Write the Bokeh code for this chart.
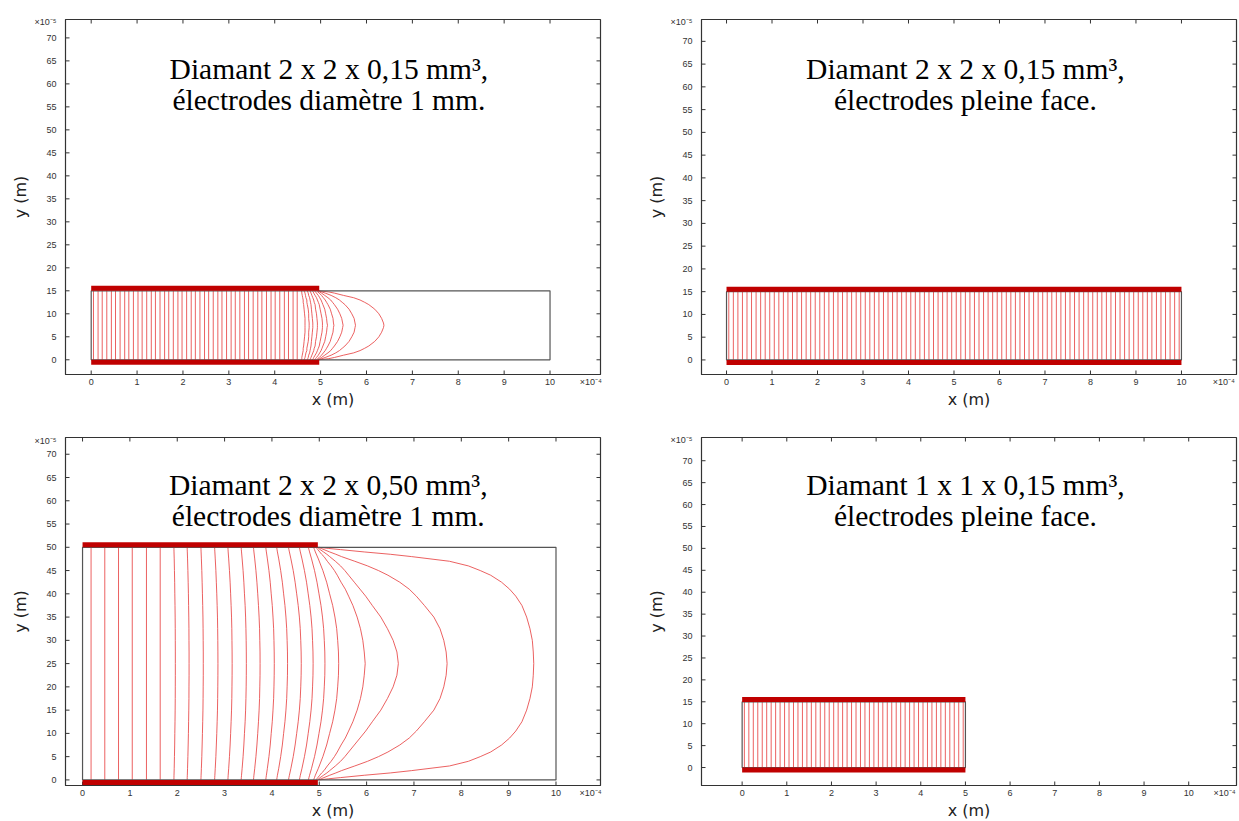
import numpy as np
from bokeh.plotting import figure
from bokeh.layouts import column, row
from bokeh.models import Range1d, FixedTicker
from bokeh.embed import file_html
from bokeh.resources import INLINE
from bokeh.core.properties import value

# ---------------- data (x in 1e-4 m, y in 1e-5 m) ----------------
x_ticks = [0, 1, 2, 3, 4, 5, 6, 7, 8, 9, 10]
y_ticks = [0, 5, 10, 15, 20, 25, 30, 35, 40, 45, 50, 55, 60, 65, 70]
x_exponent = "×10⁻⁴"
y_exponent = "×10⁻⁵"

# Panel 1 : 2 x 2 x 0.15 mm3, electrodes 1 mm
p1_title = ["Diamant 2 x 2 x 0,15 mm³,", "électrodes diamètre 1 mm."]
p1_diamond = [10.0, 15.0]
p1_electrode = [0.0, 4.97]
p1_straight_x = [0.05, 0.15, 0.24, 0.34, 0.44, 0.53, 0.63, 0.73, 0.82, 0.92,
                 1.02, 1.11, 1.21, 1.31, 1.40, 1.50, 1.60, 1.69, 1.79, 1.89,
                 1.98, 2.08, 2.18, 2.27, 2.37, 2.47, 2.56, 2.66, 2.76, 2.85,
                 2.95, 3.05, 3.14, 3.24, 3.34, 3.43, 3.53, 3.63, 3.72, 3.82,
                 3.92, 4.01, 4.11, 4.21, 4.30, 4.40, 4.49]
p1_levels = [0, 0.25, 0.5, 1, 1.5, 2, 2.5, 3, 4, 5, 6, 7, 7.5]
p1_curves_x = [
    [4.58, 4.59, 4.59, 4.60, 4.61, 4.62, 4.62, 4.63, 4.64, 4.65, 4.66, 4.66, 4.66],
    [4.64, 4.65, 4.66, 4.67, 4.68, 4.70, 4.70, 4.71, 4.73, 4.74, 4.74, 4.75, 4.75],
    [4.71, 4.72, 4.73, 4.74, 4.76, 4.77, 4.78, 4.79, 4.80, 4.81, 4.82, 4.83, 4.83],
    [4.77, 4.78, 4.79, 4.81, 4.83, 4.85, 4.86, 4.88, 4.89, 4.91, 4.92, 4.93, 4.93],
    [4.82, 4.84, 4.85, 4.88, 4.91, 4.93, 4.95, 4.97, 4.99, 5.01, 5.03, 5.04, 5.04],
    [4.87, 4.89, 4.91, 4.95, 4.98, 5.01, 5.03, 5.05, 5.09, 5.11, 5.13, 5.14, 5.15],
    [4.91, 4.94, 4.97, 5.02, 5.06, 5.10, 5.13, 5.16, 5.21, 5.24, 5.27, 5.28, 5.29],
    [4.94, 4.98, 5.02, 5.09, 5.16, 5.22, 5.26, 5.30, 5.37, 5.42, 5.46, 5.48, 5.49],
    [4.95, 5.03, 5.10, 5.23, 5.33, 5.41, 5.47, 5.53, 5.62, 5.68, 5.73, 5.75, 5.76],
    [4.96, 5.18, 5.30, 5.50, 5.72, 5.86, 5.96, 6.05, 6.18, 6.27, 6.33, 6.37, 6.38],
]

# Panel 2 : 2 x 2 x 0.15 mm3, full-face electrodes
p2_title = ["Diamant 2 x 2 x 0,15 mm³,", "électrodes pleine face."]
p2_diamond = [10.0, 15.0]
p2_electrode = [0.0, 10.0]
p2_straight_x = [0.05, 0.15, 0.25, 0.35, 0.45, 0.55, 0.65, 0.75, 0.85, 0.95,
                 1.05, 1.15, 1.25, 1.35, 1.45, 1.55, 1.65, 1.75, 1.85, 1.95,
                 2.05, 2.15, 2.25, 2.35, 2.45, 2.55, 2.65, 2.75, 2.85, 2.95,
                 3.05, 3.15, 3.25, 3.35, 3.45, 3.55, 3.65, 3.75, 3.85, 3.95,
                 4.05, 4.15, 4.25, 4.35, 4.45, 4.55, 4.65, 4.75, 4.85, 4.95,
                 5.05, 5.15, 5.25, 5.35, 5.45, 5.55, 5.65, 5.75, 5.85, 5.95,
                 6.05, 6.15, 6.25, 6.35, 6.45, 6.55, 6.65, 6.75, 6.85, 6.95,
                 7.05, 7.15, 7.25, 7.35, 7.45, 7.55, 7.65, 7.75, 7.85, 7.95,
                 8.05, 8.15, 8.25, 8.35, 8.45, 8.55, 8.65, 8.75, 8.85, 8.95,
                 9.05, 9.15, 9.25, 9.35, 9.45, 9.55, 9.65, 9.75, 9.85, 9.95]

# Panel 3 : 2 x 2 x 0.50 mm3, electrodes 1 mm
p3_title = ["Diamant 2 x 2 x 0,50 mm³,", "électrodes diamètre 1 mm."]
p3_diamond = [10.0, 50.0]
p3_electrode = [0.0, 4.97]
p3_straight_x = [0.18, 0.47, 0.76, 1.05, 1.35, 1.64]
p3_levels = [0, 0.5, 1, 2.5, 5, 7.5, 10, 12.5, 15, 17.5, 20, 22.5, 25]
p3_curves_x = [
    [1.930, 1.931, 1.932, 1.936, 1.941, 1.946, 1.949, 1.953, 1.956, 1.958, 1.959, 1.960, 1.960],
    [2.210, 2.211, 2.213, 2.218, 2.225, 2.231, 2.236, 2.240, 2.244, 2.247, 2.248, 2.250, 2.250],
    [2.500, 2.502, 2.504, 2.510, 2.519, 2.526, 2.532, 2.538, 2.543, 2.546, 2.548, 2.550, 2.550],
    [2.790, 2.792, 2.795, 2.803, 2.816, 2.826, 2.835, 2.843, 2.850, 2.854, 2.857, 2.859, 2.860],
    [3.070, 3.073, 3.076, 3.087, 3.103, 3.117, 3.128, 3.138, 3.147, 3.153, 3.156, 3.159, 3.160],
    [3.350, 3.354, 3.358, 3.371, 3.391, 3.407, 3.420, 3.434, 3.444, 3.451, 3.456, 3.459, 3.460],
    [3.610, 3.615, 3.620, 3.637, 3.662, 3.683, 3.700, 3.716, 3.729, 3.739, 3.744, 3.749, 3.750],
    [3.870, 3.876, 3.883, 3.904, 3.937, 3.964, 3.985, 4.007, 4.023, 4.036, 4.043, 4.048, 4.050],
    [4.100, 4.108, 4.116, 4.144, 4.185, 4.220, 4.247, 4.275, 4.296, 4.312, 4.321, 4.328, 4.330],
    [4.350, 4.359, 4.369, 4.401, 4.450, 4.490, 4.523, 4.555, 4.580, 4.598, 4.609, 4.617, 4.620],
    [4.580, 4.590, 4.600, 4.635, 4.687, 4.731, 4.766, 4.800, 4.827, 4.847, 4.858, 4.867, 4.870],
    [4.770, 4.782, 4.795, 4.837, 4.900, 4.952, 4.994, 5.036, 5.068, 5.092, 5.106, 5.117, 5.120],
    [4.880, 4.899, 4.917, 4.981, 5.076, 5.156, 5.219, 5.283, 5.331, 5.368, 5.389, 5.405, 5.410],
]
p3_big_levels = [0, 0.25, 0.5, 1, 1.5, 2, 3, 4, 5, 6, 7.5, 9, 10.5, 12.5, 15, 17.5, 20, 22.5, 25]
p3_big_curves_x = [
    [4.93, 4.95, 4.97, 5.01, 5.05, 5.10, 5.17, 5.25, 5.32, 5.38, 5.46, 5.55, 5.62, 5.71, 5.80, 5.87, 5.92, 5.95, 5.97],
    [4.96, 4.99, 5.02, 5.09, 5.16, 5.22, 5.34, 5.45, 5.54, 5.62, 5.74, 5.86, 5.98, 6.12, 6.30, 6.44, 6.56, 6.64, 6.67],
    [4.98, 5.04, 5.10, 5.22, 5.35, 5.47, 5.75, 6.02, 6.25, 6.45, 6.70, 6.90, 7.05, 7.22, 7.42, 7.55, 7.63, 7.68, 7.70],
    [4.99, 5.20, 5.45, 5.95, 6.50, 6.95, 7.75, 8.15, 8.40, 8.62, 8.85, 9.02, 9.15, 9.28, 9.38, 9.45, 9.50, 9.52, 9.53],
]

# Panel 4 : 1 x 1 x 0.15 mm3, full-face electrodes
p4_title = ["Diamant 1 x 1 x 0,15 mm³,", "électrodes pleine face."]
p4_diamond = [5.0, 15.0]
p4_electrode = [0.0, 5.0]
p4_straight_x = [0.05, 0.15, 0.25, 0.35, 0.45, 0.55, 0.65, 0.75, 0.85, 0.95,
                 1.05, 1.15, 1.25, 1.35, 1.45, 1.55, 1.65, 1.75, 1.85, 1.95,
                 2.05, 2.15, 2.25, 2.35, 2.45, 2.55, 2.65, 2.75, 2.85, 2.95,
                 3.05, 3.15, 3.25, 3.35, 3.45, 3.55, 3.65, 3.75, 3.85, 3.95,
                 4.05, 4.15, 4.25, 4.35, 4.45, 4.55, 4.65, 4.75, 4.85, 4.95]

# ---------------- styling ----------------
AX = "#333333"
FIELD = "#e84545"
ELEC = "#c00000"
BOX = "#555555"
SANS = "DejaVu Sans"
TICKFONT = "Liberation Sans"
SERIF = "Liberation Serif"
ELEC_OFF = 0.55


def panel(xr, yr, fw, fh, bl, br, bt, bb, diamond, electrode, straight_x,
          groups, title, tx, ty, xexp_pos):
    p = figure(frame_width=fw, frame_height=fh,
               min_border_left=bl, min_border_right=br,
               min_border_top=bt, min_border_bottom=bb,
               x_range=Range1d(*xr), y_range=Range1d(*yr),
               output_backend="svg", toolbar_location=None, tools="")
    p.xgrid.grid_line_color = None
    p.ygrid.grid_line_color = None
    p.outline_line_color = AX
    p.outline_line_width = 1.2
    p.background_fill_color = "white"
    p.border_fill_color = "white"

    yexp_pos = yr[1] - 0.65
    specs = ((p.xaxis[0], x_ticks, xexp_pos, x_exponent),
             (p.yaxis[0], y_ticks, yexp_pos, y_exponent))
    for ax, ticks, epos, etext in specs:
        ax.ticker = FixedTicker(ticks=list(ticks) + [epos])
        overrides = {float(t): str(t) for t in ticks}
        overrides[float(epos)] = etext
        ax.major_label_overrides = overrides
        ax.major_tick_line_color = None
        ax.minor_tick_line_color = None
        ax.major_tick_out = 0
        ax.major_tick_in = 0
        ax.axis_line_color = AX
        ax.major_label_text_font = TICKFONT
        ax.major_label_text_font_size = "9px"
        ax.major_label_text_color = "#333333"
        ax.axis_label_text_font = SANS
        ax.axis_label_text_font_size = "16px"
        ax.axis_label_text_font_style = "normal"
        ax.axis_label_text_color = "#222222"
    p.xaxis.axis_label = "x (m)"
    p.yaxis.axis_label = "y (m)"
    p.xaxis.major_label_standoff = 2
    p.xaxis.axis_label_standoff = 0
    p.yaxis.major_label_standoff = 9
    p.yaxis.axis_label_standoff = 2

    # inward ticks on all four edges (half of each dash is clipped by the frame)
    n_x, n_y = len(x_ticks), len(y_ticks)
    for yy in (yr[0], yr[1]):
        p.scatter(x=x_ticks, y=[yy] * n_x, marker="dash", angle=np.pi / 2,
                  size=8, line_color=AX, line_width=1)
    for xx in (xr[0], xr[1]):
        p.scatter(x=[xx] * n_y, y=y_ticks, marker="dash",
                  size=8, line_color=AX, line_width=1)

    w, h = diamond
    # field lines
    xs, ys = [], []
    for x in straight_x:
        xs.append([x, x])
        ys.append([0, h])
    for levels, curves in groups:
        half = list(levels)
        yfull = half + [h - v for v in reversed(half[:-1])]
        for c in curves:
            xs.append(list(c) + list(reversed(c[:-1])))
            ys.append(yfull)
    p.multi_line(xs=xs, ys=ys, line_color=FIELD, line_width=1, line_alpha=0.85)

    # diamond outline
    p.quad(left=[0], right=[w], bottom=[0], top=[h], fill_color=None,
           line_color=BOX, line_width=1.2)

    # electrodes
    p.segment(x0=[electrode[0], electrode[0]], x1=[electrode[1], electrode[1]],
              y0=[h + ELEC_OFF, -ELEC_OFF], y1=[h + ELEC_OFF, -ELEC_OFF],
              line_color=ELEC, line_width=5, line_cap="butt")

    # title text
    p.text(x=[tx, tx], y=list(ty), text=title, text_font=value(SERIF),
           text_font_size="29.5px", text_align="center",
           text_baseline="alphabetic", text_color="black")
    return p


p1 = panel((-0.56, 11.1), (-3.2, 74.0), 535, 355, 65, 20, 19, 36,
           p1_diamond, p1_electrode, p1_straight_x,
           [(p1_levels, p1_curves_x)], p1_title, 5.18, (63.3, 56.5), 10.89)
p2 = panel((-0.55, 11.21), (-3.2, 74.8), 535, 355, 81, 2, 19, 36,
           p2_diamond, p2_electrode, p2_straight_x, [],
           p2_title, 5.25, (63.97, 57.16), 10.93)
p3 = panel((-0.36, 10.94), (-1.2, 73.6), 535, 348, 65, 20, 26, 36,
           p3_diamond, p3_electrode, p3_straight_x,
           [(p3_levels, p3_curves_x), (p3_big_levels, p3_big_curves_x)],
           p3_title, 5.19, (63.3, 56.7), 10.73)
p4 = panel((-0.91, 11.07), (-4.1, 75.3), 535, 348, 81, 2, 26, 36,
           p4_diamond, p4_electrode, p4_straight_x, [],
           p4_title, 5.0, (64.4, 57.4), 10.80)

layout = column(row(p1, p2), row(p3, p4))

open("out.html", "w").write(file_html(layout, INLINE))
